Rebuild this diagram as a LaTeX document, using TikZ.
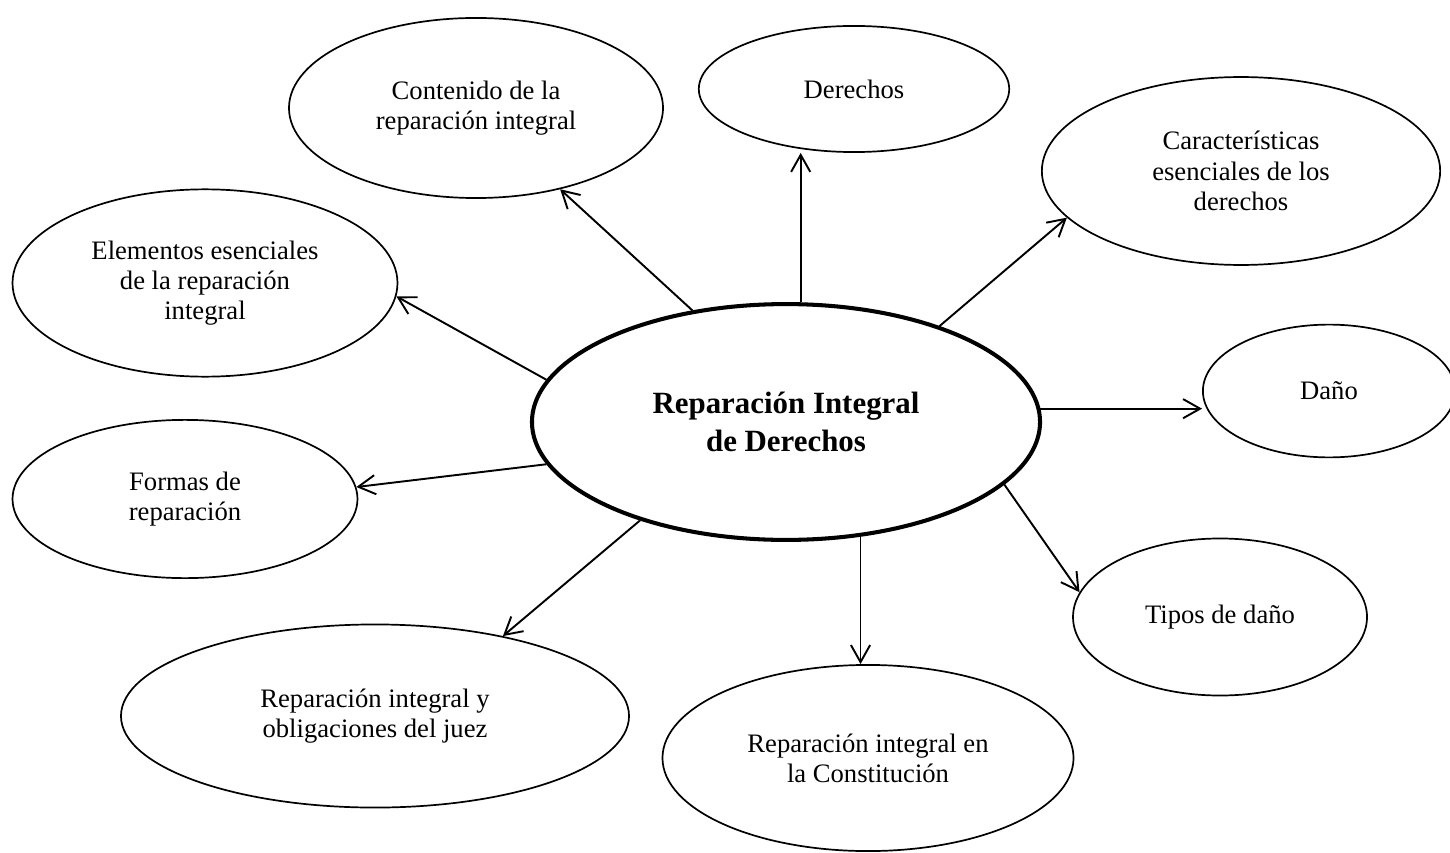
\documentclass[tikz,border=0pt]{standalone}
\usepackage{fontspec}
\setmainfont{Liberation Serif}
\usetikzlibrary{shapes.geometric,arrows.meta}
\tikzset{
  burbuja/.style={ellipse, draw, line width=0.8pt, align=center, inner sep=0pt,
    font=\fontsize{12.5}{14.2}\selectfont},
  flecha/.style={-{Straight Barb[length=8pt,width=9pt]}, line width=0.9pt}
}
\begin{document}
\begin{tikzpicture}[x=0.0165cm, y=-0.0165cm]
    \useasboundingbox (0,0) rectangle (1450,852);
    % idea central
    \node[burbuja, line width=1.9pt, minimum width=8.38cm, minimum height=3.89cm,
          font=\bfseries\fontsize{14.5}{18}\selectfont] (cen) at (786,422) {Reparación Integral\\de Derechos};
    % ideas alrededor
    \node[burbuja, minimum width=6.17cm, minimum height=2.97cm] (con) at (476,108) {Contenido de la\\reparación integral};
    \node[burbuja, minimum width=5.12cm, minimum height=2.08cm] (der) at (854,89) {Derechos};
    \node[burbuja, minimum width=6.57cm, minimum height=3.10cm] (car) at (1241,171) {Características\\esenciales de los\\derechos};
    \node[burbuja, minimum width=6.35cm, minimum height=3.09cm] (ele) at (205,283) {Elementos esenciales\\de la reparación\\integral};
    \node[burbuja, minimum width=4.16cm, minimum height=2.19cm] (dan) at (1329,391) {Daño};
    \node[burbuja, minimum width=5.69cm, minimum height=2.61cm] (for) at (185,499) {Formas de\\reparación};
    \node[burbuja, minimum width=4.85cm, minimum height=2.59cm] (tip) at (1220,617) {Tipos de daño};
    \node[burbuja, minimum width=8.38cm, minimum height=3.02cm] (obl) at (375,716) {Reparación integral y\\obligaciones del juez};
    \node[burbuja, minimum width=6.78cm, minimum height=3.07cm] (cons) at (868,758) {Reparación integral en\\la Constitución};
    % flechas
    \draw[flecha] (cen.130) -- (con.316);
    \draw[flecha] (cen.83) -- (cen.83 |- der.south);
    \draw[flecha] (cen.32) -- (car.195);
    \draw[flecha] (cen.170) -- (ele.356);
    \draw[flecha] (cen.3.4) -- (cen.3.4 -| dan.west);
    \draw[flecha] (cen.190.5) -- (for.4);
    \draw[flecha] (cen.344.4) -- (tip.170);
    \draw[flecha] (cen.214.2) -- (obl.32);
    \draw[flecha] (cen.303.7) -- (cen.303.7 |- cons.north);
\end{tikzpicture}
\end{document}
